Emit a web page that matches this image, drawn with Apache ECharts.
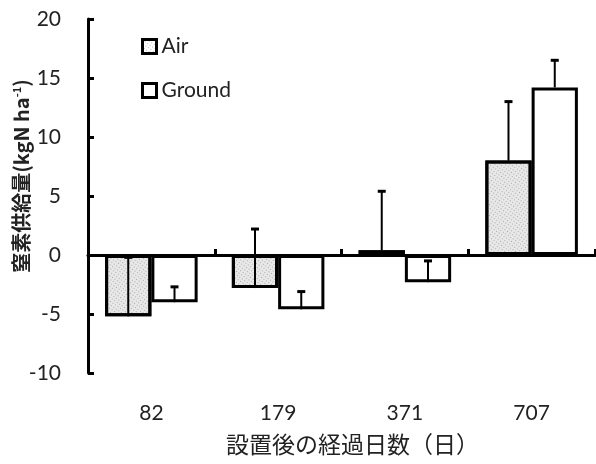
<!DOCTYPE html>
<html><head><meta charset="utf-8">
<script src="https://cdn.jsdelivr.net/npm/echarts@6/dist/echarts.min.js"></script>
<style>html,body{margin:0;padding:0;background:#fff}#c{width:596px;height:464px}</style>
</head><body><div id="c"></div>
<script>
const categories = ['82', '179', '371', '707'];
const airValues = [-5.2, -2.8, 0.4, 8.0];
const airErrors = [5.0, 5.0, 5.0, 5.0];
const groundValues = [-4.0, -4.6, -2.3, 14.2];
const groundErrors = [1.3, 1.5, 1.8, 2.3];
const yTicks = [-10, -5, 0, 5, 10, 15, 20];

const chart = echarts.init(document.getElementById('c'));
const catGap = 0.27;

function errSeries(name, vals, errs, side) {
  return {
    name: name + '_err', type: 'custom', z: 10, silent: true,
    data: vals.map((v, i) => [i, v, v + errs[i]]),
    renderItem: function (params, api) {
      const band = api.size([1, 0])[0];
      const bw = band * (1 - catGap) / 2;
      const p0 = api.coord([api.value(0), api.value(1)]);
      const p1 = api.coord([api.value(0), api.value(2)]);
      const x = p0[0] + side * bw / 2;
      return {
        type: 'group', children: [
          { type: 'line', shape: { x1: x, y1: p0[1], x2: x, y2: p1[1] }, style: { stroke: '#000', lineWidth: 2 } },
          { type: 'line', shape: { x1: x - 4, y1: p1[1], x2: x + 4, y2: p1[1] }, style: { stroke: '#000', lineWidth: 3 } }
        ]
      };
    }
  };
}

chart.setOption({
  animation: false,
  textStyle: { fontFamily: 'Lato, "Noto Sans CJK JP", sans-serif' },
  grid: { left: 88, right: 1, top: 19, bottom: 91, containLabel: false, outerBoundsMode: 'none' },
  legend: {
    orient: 'vertical', left: 136, top: 31, itemWidth: 14, itemHeight: 14, itemGap: 23,
    icon: 'rect',
    textStyle: { fontSize: 21, color: '#222', fontFamily: 'Lato, sans-serif' },
    data: [
      { name: 'Air', itemStyle: { color: '#fff', borderColor: '#000', borderWidth: 3 } },
      { name: 'Ground', itemStyle: { color: '#fff', borderColor: '#000', borderWidth: 3 } }
    ]
  },
  xAxis: [
    {
      type: 'category', data: categories,
      axisLine: { onZero: true, lineStyle: { color: '#000', width: 3 } },
      axisTick: { show: true, inside: true, length: 6, lineStyle: { color: '#000', width: 3 } },
      axisLabel: { show: false }, splitLine: { show: false }
    },
    {
      type: 'category', data: categories, position: 'bottom',
      axisLine: { show: false, onZero: false }, axisTick: { show: false },
      axisLabel: { show: true, margin: 30, fontSize: 21, color: '#222', fontFamily: 'Lato, sans-serif' },
      name: '設置後の経過日数（日）', nameLocation: 'middle', nameGap: 60, nameMoveOverlap: false,
      nameTextStyle: { fontSize: 23, color: '#222', fontFamily: '"Noto Sans CJK JP", sans-serif', padding: [0, 0, 0, 22] }
    }
  ],
  yAxis: {
    type: 'value', min: -10, max: 20, interval: 5,
    axisLine: { show: true, lineStyle: { color: '#000', width: 3 } },
    axisTick: { show: true, inside: true, length: 6, lineStyle: { color: '#000', width: 3 } },
    axisLabel: { fontSize: 21, color: '#222', margin: 27, fontFamily: 'Lato, sans-serif',
      formatter: v => (yTicks.indexOf(v) >= 0 ? String(v) : '') },
    splitLine: { show: false },
    name: '{a|窒素供給量(kgN ha}{s|-1}{a|)}', nameLocation: 'middle', nameRotate: 90, nameGap: 56,
    nameMoveOverlap: false,
    nameTextStyle: {
      padding: [0, 0, 0, 40],
      rich: {
        a: { fontSize: 20, fontWeight: 'bold', color: '#222', fontFamily: '"Noto Sans CJK JP", sans-serif' },
        s: { fontSize: 11, fontWeight: 'bold', color: '#222', verticalAlign: 'top', padding: [0, 0, 10, 0], fontFamily: '"Noto Sans CJK JP", sans-serif' }
      }
    }
  },
  series: [
    {
      name: 'Air', type: 'bar', data: airValues, barGap: '0%', barCategoryGap: (catGap * 100) + '%',
      itemStyle: {
        color: '#e8e8e8', borderColor: '#000', borderWidth: 3,
        decal: { symbol: 'rect', symbolSize: 1, color: 'rgba(90,90,90,0.45)', dashArrayX: [1, 2], dashArrayY: [1, 2], rotation: 0.6 }
      }
    },
    {
      name: 'Ground', type: 'bar', data: groundValues,
      itemStyle: { color: '#fff', borderColor: '#000', borderWidth: 3 }
    },
    errSeries('Air', airValues, airErrors, -1),
    errSeries('Ground', groundValues, groundErrors, 1)
  ]
});
</script></body></html>
